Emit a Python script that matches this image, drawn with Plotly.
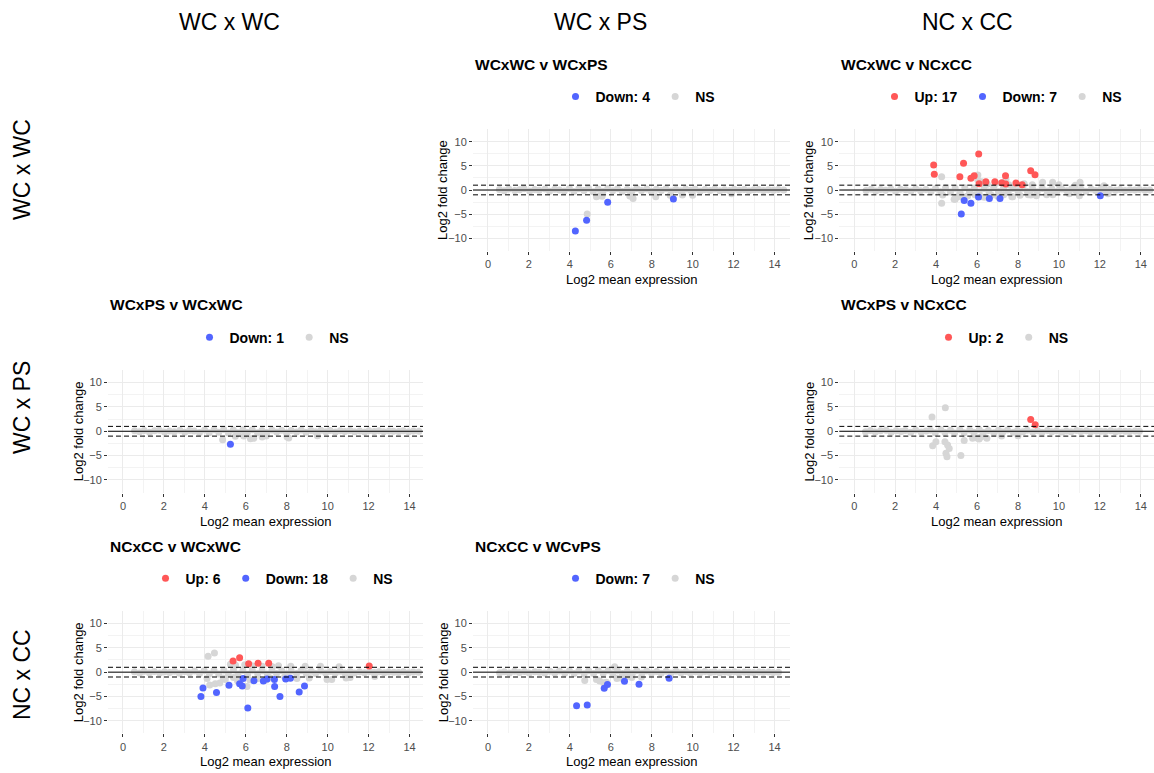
import plotly.graph_objects as go

W, H = 1154, 773

# ---------------- data ----------------
col_headers = ["WC x WC", "WC x PS", "NC x CC"]
row_headers = ["WC x WC", "WC x PS", "NC x CC"]
x_ticks = [0, 2, 4, 6, 8, 10, 12, 14]
y_ticks = [-10, -5, 0, 5, 10]

# Panel A: WCxWC v WCxPS
a_down_x = [4.27, 4.82, 5.85, 9.06]
a_down_y = [-8.48, -6.28, -2.55, -1.86]
a_ns_x = [4.85, 5.3, 5.58, 5.45, 6.93, 7.09, 8.2, 8.9, 9.5, 10.0, 11.9,
          0.56, 0.8, 1.02, 1.31, 1.55, 1.77, 2.04, 2.28, 2.5, 2.79, 3.01, 3.26, 3.49, 3.73, 3.98,
          4.2, 4.44, 4.69, 4.91, 5.14, 5.38, 5.62, 5.85, 6.09, 6.33, 6.56, 6.8, 7.04, 7.27, 7.5,
          7.76, 7.98, 8.23, 8.47, 8.7, 8.95, 9.18, 9.42, 9.66, 9.9, 10.13, 10.37, 10.6, 10.85,
          11.08, 11.33, 11.56, 11.8, 12.03, 12.27, 12.52, 12.75, 12.99, 13.22, 13.46, 13.7, 13.94,
          14.18, 14.45]
a_ns_y = [-4.97, -1.38, -1.3, -1.2, -1.24, -1.75, -1.38, -1.1, -1.05, -1.1, -0.8,
          0.1, -0.15, 0.2, -0.1, 0.05, 0.25, -0.2, 0.1, -0.05, 0.2, -0.25, 0.15, 0.0, -0.2, 0.3,
          -0.3, 0.25, -0.1, 0.35, -0.35, 0.2, -0.25, 0.3, -0.15, 0.25, -0.3, 0.1, -0.2, 0.3, -0.1,
          0.2, -0.25, 0.15, -0.1, 0.25, -0.2, 0.1, -0.15, 0.2, -0.05, 0.15, -0.2, 0.1, -0.1,
          0.2, -0.15, 0.05, -0.1, 0.15, -0.05, 0.1, -0.15, 0.05, 0.1, -0.1, 0.05, -0.05,
          0.1, 0.0]

# Panel B: WCxWC v NCxCC
b_up_x = [3.88, 3.91, 5.34, 6.08, 5.16, 5.7, 5.86, 7.39, 8.62, 8.83, 7.21, 6.87, 6.43, 7.9,
          7.4, 6.1, 8.2]
b_up_y = [5.18, 3.24, 5.52, 7.45, 2.76, 2.41, 2.97, 2.97, 4.0, 3.17, 1.52, 1.72, 1.72, 1.45,
          1.24, 1.3, 1.1]
b_down_x = [5.23, 5.37, 5.7, 6.6, 7.12, 12.02, 6.07]
b_down_y = [-4.97, -2.2, -2.76, -1.75, -1.75, -1.2, -1.45]
b_ns_x = [4.27, 4.27, 4.32, 4.88, 4.95, 5.05, 5.2, 5.54, 5.9, 6.04, 6.03, 6.22, 6.35, 6.5,
          6.7, 6.92, 7.0, 7.3, 7.41, 7.55, 7.7, 7.95, 8.1, 8.3, 8.5, 8.7, 8.9, 9.2, 9.4, 9.69,
          9.7, 10.0, 10.5, 10.8, 11.03, 11.0, 12.2, 12.4, 4.93, 5.29, 6.19, 7.74, 8.63,
          0.58, 0.83, 1.05, 1.29, 1.53, 1.79, 2.02, 2.26, 2.52, 2.77, 3.0, 3.24, 3.5, 3.75, 3.97,
          4.22, 4.46, 4.7, 4.93, 5.17, 5.4, 5.63, 5.87, 6.1, 6.34, 6.58, 6.81, 7.05, 7.29, 7.52,
          7.75, 8.0, 8.24, 8.46, 8.71, 8.94, 9.19, 9.43, 9.65, 9.89, 10.14, 10.38, 10.62, 10.84,
          11.09, 11.32, 11.57, 11.79, 12.04, 12.28, 12.5, 12.76, 12.98, 13.23, 13.47, 13.71,
          13.93, 14.2, 14.44]
b_ns_y = [2.76, -2.76, -1.03, -1.93, -1.6, -1.38, -1.2, -1.24, -1.0, 3.1, 2.1, 1.72, -1.5,
          1.2, -1.1, 1.38, -1.3, -1.0, 2.2, 1.1, -1.4, 1.2, -1.1, 1.3, -1.0, 1.1, -1.2, 1.6,
          -1.0, 1.6, -1.0, 1.1, -0.8, 1.0, 1.6, -1.2, 0.9, -0.8, -1.93, -1.38, -1.38, -1.38, -1.03,
          -0.1, 0.15, -0.2, 0.1, -0.05, 0.2, -0.25, 0.15, 0.05, -0.2, 0.25, -0.15, 0.1, -0.3, 0.3,
          -0.35, 0.4, -0.4, 0.35, -0.45, 0.45, -0.3, 0.4, -0.4, 0.3, -0.35, 0.45, -0.3, 0.35, -0.4,
          0.3, -0.25, 0.35, -0.3, 0.25, -0.35, 0.3, -0.2, 0.25, -0.3, 0.2, -0.15, 0.25, -0.2,
          0.15, -0.25, 0.2, -0.1, 0.15, -0.15, 0.1, -0.05, 0.1, -0.1, 0.05, 0.0,
          0.1, -0.05, 0.0]

# Panel C: WCxPS v WCxWC
c_down_x = [5.25]
c_down_y = [-2.66]
c_ns_x = [4.87, 5.49, 6.23, 6.39, 6.8, 8.02, 8.1, 7.0, 5.9, 9.5,
          0.57, 0.81, 1.04, 1.3, 1.54, 1.78, 2.03, 2.27, 2.51, 2.78, 3.02, 3.25, 3.48, 3.74, 3.99,
          4.21, 4.45, 4.68, 4.92, 5.15, 5.39, 5.61, 5.86, 6.08, 6.32, 6.57, 6.79, 7.03, 7.28, 7.51,
          7.75, 7.99, 8.22, 8.48, 8.71, 8.94, 9.19, 9.41, 9.67, 9.91, 10.12, 10.38, 10.61, 10.84,
          11.09, 11.32, 11.57, 11.81, 12.02, 12.28, 12.51, 12.74, 13.0, 13.21, 13.47, 13.69, 13.95,
          14.19, 14.46]
c_ns_y = [-1.75, -1.05, -1.54, -1.45, -1.19, -1.19, -1.4, -1.0, -1.0, -0.9,
          0.1, -0.1, 0.15, -0.2, 0.1, 0.2, -0.15, 0.05, -0.1, 0.2, -0.2, 0.15, 0.05, -0.25, 0.25,
          -0.3, 0.3, -0.2, 0.35, -0.35, 0.25, -0.3, 0.3, -0.25, 0.3, -0.3, 0.15, -0.25, 0.25, -0.15,
          0.2, -0.3, 0.15, -0.15, 0.25, -0.2, 0.15, -0.1, 0.2, -0.1, 0.15, -0.15, 0.1, -0.05,
          0.15, -0.1, 0.05, -0.15, 0.1, -0.05, 0.1, -0.1, 0.05, 0.0, -0.05, 0.1, -0.1,
          0.05, 0.0]

# Panel D: WCxPS v NCxCC
d_up_x = [8.62, 8.84]
d_up_y = [2.41, 1.31]
d_ns_x = [3.8, 4.45, 3.83, 3.99, 4.43, 4.56, 4.64, 4.48, 4.53, 5.21, 5.37, 5.78, 6.03, 6.19,
          6.48, 6.1, 7.2, 8.0,
          0.55, 0.79, 1.03, 1.28, 1.56, 1.8, 2.05, 2.29, 2.49, 2.76, 3.0, 3.27, 3.51, 3.72, 3.96,
          4.23, 4.43, 4.7, 4.9, 5.16, 5.37, 5.64, 5.84, 6.11, 6.31, 6.55, 6.82, 7.05, 7.26, 7.49,
          7.77, 7.97, 8.24, 8.45, 8.72, 8.96, 9.17, 9.44, 9.65, 9.88, 10.15, 10.36, 10.59, 10.86,
          11.07, 11.34, 11.55, 11.82, 12.04, 12.26, 12.53, 12.76, 12.97, 13.24, 13.45, 13.72,
          13.93, 14.17, 14.43]
d_ns_y = [2.9, 4.82, -2.98, -2.13, -2.13, -2.84, -3.55, -4.54, -5.25, -4.96, -1.91, -1.42,
          -1.42, -1.2, -1.42, -1.6, -1.0, -0.9,
          -0.1, 0.15, -0.15, 0.1, 0.2, -0.2, 0.1, -0.05, 0.15, -0.2, 0.25, -0.15, 0.05, 0.2, -0.3,
          0.3, -0.25, 0.2, -0.35, 0.3, -0.3, 0.25, -0.2, 0.3, -0.25, 0.15, -0.3, 0.2, -0.15,
          0.25, -0.2, 0.15, -0.1, 0.2, -0.15, 0.1, -0.2, 0.15, -0.1, 0.1, -0.15, 0.05, -0.1,
          0.15, -0.05, 0.1, -0.1, 0.05, 0.0, -0.05, 0.1, -0.1, 0.05, 0.0, -0.05, 0.05, 0.0]

# Panel E: NCxCC v WCxWC
e_up_x = [5.38, 5.7, 6.14, 6.6, 7.12, 12.03]
e_up_y = [2.3, 2.94, 1.75, 1.82, 1.82, 1.26]
e_down_x = [3.81, 3.91, 4.57, 5.18, 5.7, 5.83, 6.1, 6.4, 6.86, 7.41, 7.67, 7.95, 8.61, 8.87,
            7.4, 5.87, 7.04, 8.18]
e_down_y = [-5.03, -3.25, -4.2, -2.69, -2.38, -2.87, -7.37, -1.78, -1.82, -2.94, -5.03, -1.4,
            -4.06, -2.83, -1.5, -1.3, -1.4, -1.25]
e_ns_x = [4.16, 4.47, 4.24, 4.51, 4.73, 4.11, 6.06, 5.25, 5.5, 5.95, 6.3, 6.8, 7.3, 7.6, 7.9,
          8.2, 8.5, 8.9, 9.1, 9.65, 9.97, 10.2, 10.56, 10.9, 11.1, 12.3, 5.0, 5.6, 6.2, 6.6,
          7.0, 7.2, 4.9, 5.4,
          0.56, 0.82, 1.04, 1.29, 1.53, 1.8, 2.03, 2.28, 2.52, 2.76, 3.02, 3.25, 3.5, 3.74, 3.97,
          4.22, 4.45, 4.68, 4.93, 5.15, 5.4, 5.62, 5.86, 6.09, 6.32, 6.58, 6.8, 7.05, 7.28, 7.5,
          7.76, 7.99, 8.22, 8.48, 8.7, 8.95, 9.2, 9.41, 9.66, 9.9, 10.14, 10.37, 10.61, 10.84,
          11.1, 11.31, 11.56, 11.8, 12.05, 12.27, 12.51, 12.76, 12.98, 13.23, 13.46, 13.7, 13.95,
          14.18, 14.44]
e_ns_y = [3.29, 3.92, -2.66, -2.38, -2.24, -1.33, -2.94, 1.6, 1.4, 1.5, 1.3, 1.2, 1.1, 1.3,
          -1.0, 1.2, -1.3, 1.2, -1.2, 1.2, -1.5, -1.5, 1.1, -1.2, -1.1, -0.9, -1.5, -1.8, -1.6,
          -1.3, -1.6, -1.2, -1.2, -1.1,
          0.1, -0.15, 0.2, -0.1, 0.15, -0.2, 0.1, -0.05, 0.2, -0.25, 0.15, -0.1, 0.25, -0.3, 0.3,
          -0.35, 0.35, -0.4, 0.4, -0.35, 0.45, -0.4, 0.35, -0.45, 0.4, -0.35, 0.3, -0.4, 0.35, -0.3,
          0.3, -0.35, 0.25, -0.3, 0.3, -0.25, 0.2, -0.3, 0.25, -0.2, 0.15, -0.25, 0.2, -0.15,
          0.15, -0.2, 0.1, -0.1, 0.15, -0.05, 0.1, -0.1, 0.05, 0.0, -0.05, 0.1, -0.1, 0.05, 0.0]

# Panel F: NCxCC v WCvPS
f_down_x = [4.33, 4.85, 5.68, 5.84, 6.67, 7.38, 8.85]
f_down_y = [-6.9, -6.76, -3.3, -2.55, -1.86, -2.48, -1.24]
f_ns_x = [4.73, 5.3, 5.46, 5.79, 5.65, 6.19, 6.3, 6.78, 7.03, 7.5, 6.5,
          0.57, 0.8, 1.05, 1.3, 1.54, 1.79, 2.02, 2.29, 2.51, 2.77, 3.03, 3.26, 3.49, 3.75, 3.98,
          4.21, 4.44, 4.7, 4.92, 5.16, 5.39, 5.63, 5.87, 6.1, 6.33, 6.57, 6.81, 7.06, 7.27, 7.52,
          7.75, 7.99, 8.24, 8.46, 8.71, 8.94, 9.19, 9.43, 9.67, 9.89, 10.14, 10.36, 10.6, 10.86,
          11.07, 11.33, 11.57, 11.79, 12.04, 12.26, 12.53, 12.75, 12.98, 13.24, 13.45, 13.71,
          13.93, 14.19, 14.45]
f_ns_y = [-1.72, -1.5, -1.84, -2.07, -2.2, 1.1, -1.3, -0.9, -1.1, -1.0, -1.2,
          -0.1, 0.1, -0.15, 0.2, -0.05, 0.15, -0.2, 0.1, 0.0, -0.2, 0.2, -0.15, 0.25, -0.25, 0.3,
          -0.3, 0.25, -0.35, 0.3, -0.3, 0.35, -0.25, 0.3, -0.35, 0.25, -0.3, 0.2, -0.25, 0.3, -0.2,
          0.25, -0.2, 0.15, -0.25, 0.2, -0.15, 0.2, -0.1, 0.15, -0.15, 0.1, -0.1, 0.15, -0.05,
          0.1, -0.1, 0.05, -0.05, 0.1, -0.1, 0.05, 0.0, -0.05, 0.05, 0.0, 0.05, -0.05, 0.0]

panels = [
    dict(title="WCxWC v WCxPS", col=1, row=0, up=None, down=(a_down_x, a_down_y), ns=(a_ns_x, a_ns_y)),
    dict(title="WCxWC v NCxCC", col=2, row=0, up=(b_up_x, b_up_y), down=(b_down_x, b_down_y), ns=(b_ns_x, b_ns_y)),
    dict(title="WCxPS v WCxWC", col=0, row=1, up=None, down=(c_down_x, c_down_y), ns=(c_ns_x, c_ns_y)),
    dict(title="WCxPS v NCxCC", col=2, row=1, up=(d_up_x, d_up_y), down=None, ns=(d_ns_x, d_ns_y)),
    dict(title="NCxCC v WCxWC", col=0, row=2, up=(e_up_x, e_up_y), down=(e_down_x, e_down_y), ns=(e_ns_x, e_ns_y)),
    dict(title="NCxCC v WCvPS", col=1, row=2, up=None, down=(f_down_x, f_down_y), ns=(f_ns_x, f_ns_y)),
]

# ---------------- layout geometry (pixels) ----------------
COL_L = [108, 473, 839.3]
COL_R = [423, 790, 1154]
ROW_T = [129.3, 370, 611]
ROW_B = [250.7, 492.5, 733.3]
LEG_CX = [272, 638, 1001]
PX_PER_X = 20.47
X0 = -0.73
Y_RANGE = [-12.57, 12.57]

UP_COL = "#FF5757"
DOWN_COL = "#5265FF"
NS_COL = "#D6D6D6"
FONT = "Liberation Sans, Arial, Helvetica, sans-serif"

fig = go.Figure()
layout = dict(width=W, height=H, margin=dict(l=0, r=0, t=0, b=0),
              paper_bgcolor="white", plot_bgcolor="white",
              font=dict(family=FONT, color="black"),
              showlegend=True, shapes=[], annotations=[])

for i, p in enumerate(panels):
    n = i + 1
    xa = "x" if n == 1 else f"x{n}"
    ya = "y" if n == 1 else f"y{n}"
    lg = "legend" if n == 1 else f"legend{n}"
    c, r = p["col"], p["row"]
    L, R, T, B = COL_L[c], COL_R[c], ROW_T[r], ROW_B[r]

    nsx, nsy = p["ns"]
    fig.add_trace(go.Scatter(x=nsx, y=nsy, mode="markers", name="NS", legend=lg, legendrank=3,
                             marker=dict(color=NS_COL, size=7), xaxis=xa, yaxis=ya, hoverinfo="skip"))
    if p["up"] is not None:
        ux, uy = p["up"]
        fig.add_trace(go.Scatter(x=ux, y=uy, mode="markers", name=f"Up: {len(ux)}", legend=lg,
                                 legendrank=1, marker=dict(color=UP_COL, size=7),
                                 xaxis=xa, yaxis=ya))
    if p["down"] is not None:
        dx, dy = p["down"]
        fig.add_trace(go.Scatter(x=dx, y=dy, mode="markers", name=f"Down: {len(dx)}", legend=lg,
                                 legendrank=2, marker=dict(color=DOWN_COL, size=7),
                                 xaxis=xa, yaxis=ya))

    xr = [X0, X0 + (R - L) / PX_PER_X]
    axis_common = dict(showline=False, zeroline=False, showgrid=True, gridcolor="#EBEBEB",
                       gridwidth=1, ticks="outside", ticklen=3, tickwidth=1, tickcolor="#333333",
                       tickfont=dict(size=11, color="#4D4D4D", family=FONT), fixedrange=True)
    layout["xaxis" if n == 1 else f"xaxis{n}"] = dict(
        domain=[L / W, R / W], anchor=ya, range=xr, tickvals=x_ticks,
        minor=dict(dtick=1, tick0=0, showgrid=True, gridcolor="#F3F3F3", gridwidth=0.6, ticks=""),
        **axis_common)
    layout["yaxis" if n == 1 else f"yaxis{n}"] = dict(
        domain=[1 - B / H, 1 - T / H], anchor=xa, range=Y_RANGE, tickvals=y_ticks,
        minor=dict(dtick=2.5, tick0=0, showgrid=True, gridcolor="#F3F3F3", gridwidth=0.6, ticks=""),
        **axis_common)

    # reference lines
    for yv, dash in [(0, "solid"), (1, "5px,3px"), (-1, "5px,3px")]:
        layout["shapes"].append(dict(type="line", xref=f"{xa} domain", yref=ya, x0=0, x1=1,
                                     y0=yv, y1=yv, layer="above",
                                     line=dict(color="black", width=1, dash=dash)))

    # legend
    layout[lg] = dict(orientation="h", x=LEG_CX[c] / W, xanchor="center",
                      y=1 - (T - 32.3) / H, yanchor="middle",
                      font=dict(size=14, family=FONT, color="black", weight="bold"),
                      bgcolor="rgba(0,0,0,0)", itemclick=False, itemdoubleclick=False,
                      traceorder="normal")

    # panel title
    layout["annotations"].append(dict(text=p["title"], x=L / W, y=1 - (T - 65) / H,
                                      xref="paper", yref="paper", xanchor="left", yanchor="middle",
                                      showarrow=False,
                                      font=dict(size=15.5, family=FONT, color="black", weight="bold")))
    # axis titles
    layout["annotations"].append(dict(text="Log2 mean expression", x=(L + R) / 2 / W,
                                      y=1 - (B + 28.5) / H, xref="paper", yref="paper",
                                      xanchor="center", yanchor="middle", showarrow=False,
                                      font=dict(size=13, family=FONT, color="black")))
    layout["annotations"].append(dict(text="Log2 fold change", x=(L - 30) / W,
                                      y=1 - (T + B) / 2 / H, xref="paper", yref="paper",
                                      xanchor="center", yanchor="middle", showarrow=False,
                                      textangle=-90,
                                      font=dict(size=13, family=FONT, color="black")))

# column / row headers
for txt, cx in zip(col_headers, [229, 600, 967]):
    layout["annotations"].append(dict(text=txt, x=cx / W, y=1 - 22 / H, xref="paper", yref="paper",
                                      xanchor="center", yanchor="middle", showarrow=False,
                                      font=dict(size=23, family=FONT, color="black")))
for txt, cy in zip(row_headers, [170, 408, 675]):
    layout["annotations"].append(dict(text=txt, x=22 / W, y=1 - cy / H, xref="paper", yref="paper",
                                      xanchor="center", yanchor="middle", showarrow=False,
                                      textangle=-90,
                                      font=dict(size=23, family=FONT, color="black")))

fig.update_layout(**layout)
fig.write_html("out.html")
